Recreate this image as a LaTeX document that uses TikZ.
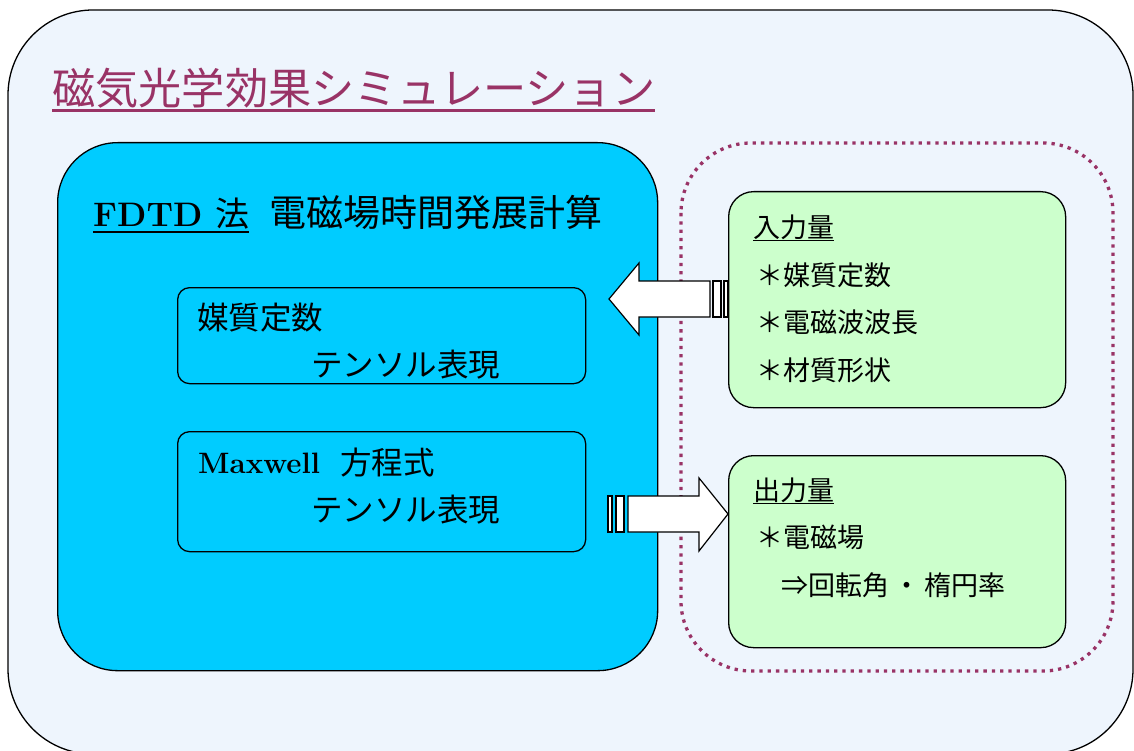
\documentclass[tikz,border=0pt]{standalone}
\usepackage{fontspec}
\newfontfamily\jp{Noto Sans CJK JP}
\definecolor{bgblue}{HTML}{EEF5FD}
\definecolor{cyanbox}{HTML}{00CCFF}
\definecolor{greenbox}{HTML}{CCFFCC}
\definecolor{plum}{HTML}{993366}
\tikzset{
  box/.style={draw=black, line width=1.3pt},
  txt/.style={inner sep=0pt, anchor=west},
  jpbig/.style={font=\jp\fontsize{31.5}{36}\selectfont},
  jpgreen/.style={font=\jp\fontsize{27}{30}\selectfont},
  blockarrow/.style={draw=black, fill=white, line width=1.2pt, line join=miter},
}
\begin{document}
\begin{tikzpicture}[x=1pt,y=-1pt]
\useasboundingbox (0,0) rectangle (1134,751);
% outer frame
\draw[box, fill=bgblue, rounded corners=85pt] (8,10) rectangle (1133,754);
% title
\node[txt, text=plum, font=\jp\fontsize{43.2}{50}\selectfont] (title) at (52,88) {磁気光学効果シミュレーション};
\draw[plum, line width=2.6pt] ([yshift=-2pt]title.south west) -- ([yshift=-2pt]title.south east);
% dotted group
\draw[plum, line width=3.3pt, dash pattern=on 3.3pt off 5pt, rounded corners=70pt] (681,143) rectangle (1113,671);
% big cyan box
\node[box, fill=cyanbox, rounded corners=60pt, minimum width=600pt, minimum height=528pt, anchor=north west, inner sep=0pt] (calc) at (57,142) {};
\node[inner sep=0pt, anchor=base west, font=\fontsize{34}{40}\selectfont\bfseries] (fdtd) at (93,227) {FDTD {\jp\mdseries 法}};
\draw[line width=1.6pt] ([yshift=-5pt]fdtd.base west) -- ([yshift=-5pt]fdtd.base east);
\node[inner sep=0pt, anchor=base west, font=\jp\fontsize{37}{40}\selectfont] (hdr) at (269,227) {電磁場時間発展計算};
% inner boxes
\node[box, rounded corners=12pt, minimum width=408pt, minimum height=96pt, anchor=north west, inner sep=0pt] (med) at (177,287) {};
\node[txt, jpbig] (medA) at (197,318) {媒質定数};
\node[txt, jpbig] (medB) at (311,365) {テンソル表現};
\node[box, rounded corners=12pt, minimum width=408pt, minimum height=120pt, anchor=north west, inner sep=0pt] (mx) at (177,431) {};
\node[txt, font=\fontsize{29.5}{34}\selectfont\bfseries] (mxA) at (198,463) {Maxwell};
\node[txt, jpbig] (mxA2) at (340,463) {方程式};
\node[txt, jpbig] (mxB) at (311,510) {テンソル表現};
% green boxes
\node[box, fill=greenbox, rounded corners=25pt, minimum width=337pt, minimum height=216pt, anchor=north west, inner sep=0pt] (inbox) at (728,191) {};
\node[txt, jpgreen] (inA) at (753,227) {入力量};
\draw[line width=1.2pt] ([yshift=-1pt]inA.south west) -- ([yshift=-1pt]inA.south east);
\node[txt, jpgreen] (inB) at (756,275) {＊媒質定数};
\node[txt, jpgreen] (inC) at (756,322) {＊電磁波波長};
\node[txt, jpgreen] (inD) at (756,370) {＊材質形状};
\node[box, fill=greenbox, rounded corners=25pt, minimum width=337pt, minimum height=192pt, anchor=north west, inner sep=0pt] (outbox) at (728,455) {};
\node[txt, jpgreen] (outA) at (753,490) {出力量};
\draw[line width=1.2pt] ([yshift=-1pt]outA.south west) -- ([yshift=-1pt]outA.south east);
\node[txt, jpgreen] (outB) at (756,537) {＊電磁場};
\node[txt, jpgreen] (outC) at (781,585) {⇒回転角\hspace{4pt}・\hspace{4pt}楕円率};
% input arrow (into calc box)
\coordinate (inEnd) at (inbox.west |- 0,299);
\draw[blockarrow] (710,281) -- (639,281) -- (639,263) -- (609,299) -- (639,335) -- (639,317) -- (710,317) -- cycle;
\draw[blockarrow] (713,281) rectangle (721,317);
\draw[blockarrow] (724,281) rectangle (inEnd |- 0,317);
% output arrow (to output box)
\coordinate (outTip) at (outbox.west |- 0,514);
\draw[blockarrow] (608,496) rectangle (612,532);
\draw[blockarrow] (616,496) rectangle (624,532);
\draw[blockarrow] (628,496) -- (699,496) -- (699,478) -- (outTip) -- (699,551) -- (699,532) -- (628,532) -- cycle;
\end{tikzpicture}
\end{document}
